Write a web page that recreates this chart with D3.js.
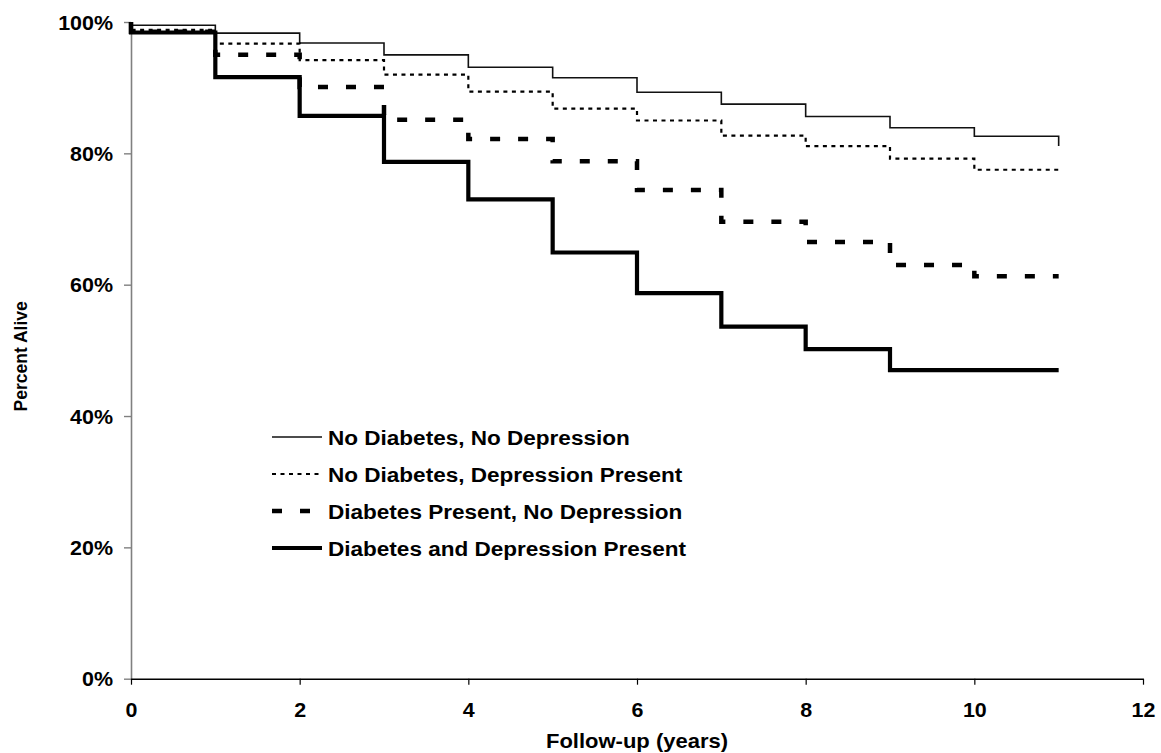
<!DOCTYPE html>
<html>
<head>
<meta charset="utf-8">
<script src="https://cdn.jsdelivr.net/npm/d3@7"></script>
<style>
  html, body { margin: 0; padding: 0; background: #fff; }
  svg { display: block; }
  text { font-family: "Liberation Sans", Arial, Helvetica, sans-serif; font-weight: bold; fill: #000; }
</style>
</head>
<body>
<svg id="chart" width="1161" height="753"></svg>
<script>
// ---- data ----
const years = [0, 1, 2, 3, 4, 5, 6, 7, 8, 9, 10, 11];
const startPercent = 100;
const seriesNames = [
  "No Diabetes, No Depression",
  "No Diabetes, Depression Present",
  "Diabetes Present, No Depression",
  "Diabetes and Depression Present"
];
const noDiabNoDep   = [99.5, 98.3, 96.8, 95.0, 93.1, 91.5, 89.3, 87.5, 85.6, 83.9, 82.6, 81.1];
const noDiabDep     = [98.8, 96.7, 94.2, 92.0, 89.4, 86.8, 85.0, 82.7, 81.1, 79.2, 77.5, 77.5];
const diabNoDep     = [98.5, 95.0, 90.1, 85.1, 82.2, 78.8, 74.4, 69.6, 66.5, 63.0, 61.3, 61.3];
const diabDep       = [98.4, 91.6, 85.7, 78.7, 73.0, 64.9, 58.7, 53.6, 50.2, 47.0, 47.0, 47.0];
const xTicks = [0, 2, 4, 6, 8, 10, 12];
const yTicks = [0, 20, 40, 60, 80, 100];
const xTitle = "Follow-up (years)";
const yTitle = "Percent Alive";

// ---- layout ----
const svg = d3.select("#chart");
const x = d3.scaleLinear().domain([0, 12]).range([131, 1143]);
const y = d3.scaleLinear().domain([0, 100]).range([678.7, 22]);
const SX = 1.1; // horizontal glyph stretch seen in reference

const styles = [
  { width: 1.6, dash: null, color: "#111" },
  { width: 2.2, dash: "4,4.5", color: "#000" },
  { width: 4.5, dash: "10,18", color: "#000" },
  { width: 4.2, dash: null, color: "#000" }
];
const allSeries = [noDiabNoDep, noDiabDep, diabNoDep, diabDep];

// ---- axes ----
const yAxis = d3.axisLeft(y).tickValues(yTicks).tickSize(7).tickSizeOuter(0)
  .tickFormat(d => d + "%");
const gy = svg.append("g").attr("transform", `translate(${x(0)},0)`).call(yAxis);
gy.select(".domain").attr("stroke", "#808080").attr("stroke-width", 1.6);
gy.selectAll(".tick line").attr("stroke", "#808080").attr("stroke-width", 1.4);
gy.selectAll(".tick text")
  .attr("x", null).attr("dy", null)
  .attr("transform", "translate(-18,7) scale(" + SX + ",1)")
  .attr("text-anchor", "end")
  .style("font-size", "19.5px").style("font-family", null);

const xAxis = d3.axisBottom(x).tickValues(xTicks).tickSize(6).tickSizeOuter(0)
  .tickFormat(d3.format("d"));
const gx = svg.append("g").attr("transform", `translate(0,${y(0)})`).call(xAxis);
gx.select(".domain").attr("stroke", "#000").attr("stroke-width", 1.4);
gx.selectAll(".tick line").attr("stroke", "#000").attr("stroke-width", 1.2);
gx.selectAll(".tick text")
  .attr("y", null).attr("dy", null)
  .attr("transform", "translate(0,38) scale(" + SX + ",1)")
  .attr("text-anchor", "middle")
  .style("font-size", "19.5px").style("font-family", null);
svg.selectAll(".domain").attr("fill", "none");

// axis titles
svg.append("text")
  .attr("transform", `translate(${(x(0) + x(12)) / 2},748) scale(${SX},1)`)
  .attr("text-anchor", "middle")
  .style("font-size", "20px")
  .text(xTitle);
svg.append("text")
  .attr("transform", `translate(27,${(y(0) + y(100)) / 2 + 6}) scale(${SX},1) rotate(-90)`)
  .attr("text-anchor", "middle")
  .style("font-size", "17.5px")
  .text(yTitle);

// ---- survival curves ----
const line = d3.line()
  .x(d => x(d[0]))
  .y(d => y(d[1]))
  .curve(d3.curveStepAfter);

allSeries.forEach((vals, i) => {
  const pts = [[years[0], startPercent]].concat(years.map((t, j) => [t, vals[j]]));
  const st = styles[i];
  svg.append("path")
    .datum(pts)
    .attr("d", line)
    .attr("fill", "none")
    .attr("stroke", st.color)
    .attr("stroke-width", st.width)
    .attr("stroke-dasharray", st.dash)
    .attr("stroke-linejoin", "miter")
    .attr("stroke-linecap", "butt");
});

// ---- legend ----
const legendY = [437, 474, 511, 548];
const legend = svg.append("g");
seriesNames.forEach((name, i) => {
  const st = styles[i];
  legend.append("line")
    .attr("x1", 272).attr("x2", 322)
    .attr("y1", legendY[i]).attr("y2", legendY[i])
    .attr("stroke", st.color)
    .attr("stroke-width", st.width)
    .attr("stroke-dasharray", st.dash);
  legend.append("text")
    .attr("transform", `translate(328,${legendY[i] + 7.5}) scale(${SX},1)`)
    .style("font-size", "20.5px")
    .text(name);
});
</script>
</body>
</html>
